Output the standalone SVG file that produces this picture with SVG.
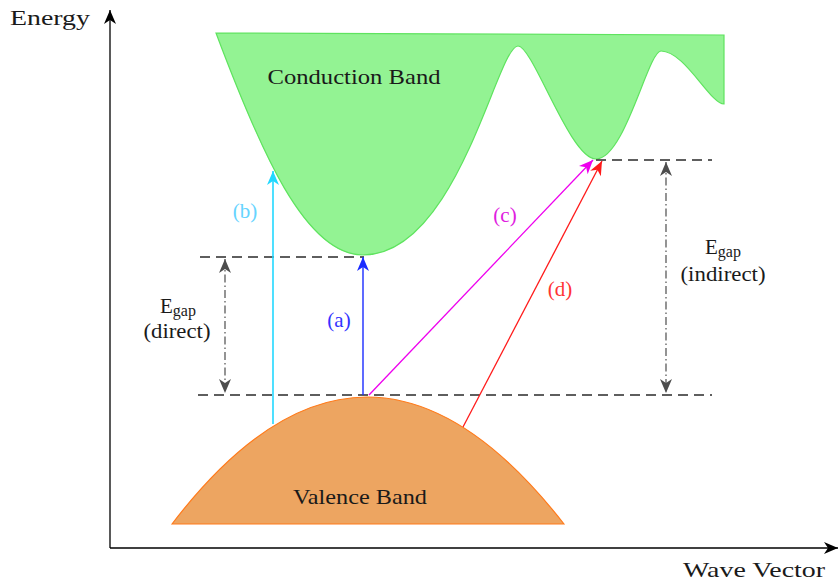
<svg xmlns="http://www.w3.org/2000/svg" width="840" height="582" viewBox="0 0 840 582" font-family="'Liberation Serif', 'Times New Roman', serif">
<style>
text{font-family:"Liberation Serif","Times New Roman",serif;font-size:21px;fill:#1a1a1a}
.mid{text-anchor:middle}
.dash{stroke:#2a2a2a;stroke-width:1.4;stroke-dasharray:10 6;fill:none}
.gap{stroke:#4d4d4d;stroke-width:1.2;stroke-dasharray:8 3 1.5 3;fill:none}
.ax{stroke:#000;stroke-width:1.3;fill:none}
</style>
<defs>
<marker id="mk" markerUnits="userSpaceOnUse" orient="auto-start-reverse" overflow="visible" markerWidth="1" markerHeight="1"><path d="M0,0 L-14,-6 L-10,0 L-14,6 Z" fill="#000"/></marker>
<marker id="mg" markerUnits="userSpaceOnUse" orient="auto-start-reverse" overflow="visible" markerWidth="1" markerHeight="1"><path d="M0,0 L-14,-6 L-10,0 L-14,6 Z" fill="#4d4d4d"/></marker>
<marker id="ma" markerUnits="userSpaceOnUse" orient="auto" overflow="visible" markerWidth="1" markerHeight="1"><path d="M0,0 L-14,-6 L-10,0 L-14,6 Z" fill="#1a2bff"/></marker>
<marker id="mb" markerUnits="userSpaceOnUse" orient="auto" overflow="visible" markerWidth="1" markerHeight="1"><path d="M0,0 L-14,-6 L-10,0 L-14,6 Z" fill="#22d8ff"/></marker>
<marker id="mc" markerUnits="userSpaceOnUse" orient="auto" overflow="visible" markerWidth="1" markerHeight="1"><path d="M0,0 L-14,-6 L-10,0 L-14,6 Z" fill="#ee00ee"/></marker>
<marker id="md" markerUnits="userSpaceOnUse" orient="auto" overflow="visible" markerWidth="1" markerHeight="1"><path d="M0,0 L-14,-6 L-10,0 L-14,6 Z" fill="#ff1a1a"/></marker>
</defs>

<g id="conduction-band">
<path d="M216,33 C260,150 305,255 363,255 C458,255 497,46 518,46 C533,46 570,159 596,159 C625,159 648,51 661,51 C685,51 710,104 724,104 L724,35 Z" fill="#93f393" stroke="#5fe35f" stroke-width="1.2"/>
<text class="mid" x="354" y="84" textLength="173" lengthAdjust="spacingAndGlyphs">Conduction Band</text>
</g>

<g id="valence-band">
<path d="M172,524 Q366,270 564,524 Z" fill="#eda561" stroke="#ff7a1a" stroke-width="1.2"/>
<text class="mid" x="360" y="504" textLength="134" lengthAdjust="spacingAndGlyphs">Valence Band</text>
</g>

<g id="axes">
<line class="ax" x1="110" y1="548" x2="110" y2="10" marker-end="url(#mk)"/>
<line class="ax" x1="110" y1="548" x2="838" y2="548" marker-end="url(#mk)"/>
<text x="10" y="25" textLength="80" lengthAdjust="spacingAndGlyphs">Energy</text>
<text x="683" y="577" textLength="142" lengthAdjust="spacingAndGlyphs">Wave Vector</text>
</g>

<g id="levels">
<line class="dash" x1="200" y1="257" x2="364" y2="257"/>
<line class="dash" x1="198" y1="395" x2="712" y2="395"/>
<line class="dash" x1="596" y1="160" x2="712" y2="160"/>
</g>

<g id="gap-direct">
<line class="gap" x1="225" y1="259" x2="225" y2="393" marker-start="url(#mg)" marker-end="url(#mg)"/>
<text class="mid" x="178" y="313">E<tspan font-size="16" dy="3">gap</tspan></text>
<text class="mid" x="177" y="338" textLength="67" lengthAdjust="spacingAndGlyphs">(direct)</text>
</g>

<g id="gap-indirect">
<line class="gap" x1="666" y1="162" x2="666" y2="393" marker-start="url(#mg)" marker-end="url(#mg)"/>
<text class="mid" x="723" y="254">E<tspan font-size="16" dy="3">gap</tspan></text>
<text class="mid" x="723" y="281" textLength="85" lengthAdjust="spacingAndGlyphs">(indirect)</text>
</g>

<g id="connectors">
<line x1="363" y1="395" x2="363" y2="257" stroke="#1a2bff" stroke-width="1.4" marker-end="url(#ma)"/>
<line x1="273" y1="424" x2="273" y2="171" stroke="#22d8ff" stroke-width="1.6" marker-end="url(#mb)"/>
<line x1="369" y1="395" x2="593" y2="160" stroke="#ee00ee" stroke-width="1.3" marker-end="url(#mc)"/>
<line x1="463" y1="427" x2="602" y2="161" stroke="#ff1a1a" stroke-width="1.3" marker-end="url(#md)"/>
<text class="mid" x="339" y="327" style="fill:#3333ff">(a)</text>
<text class="mid" x="245" y="218" style="fill:#66d4ff">(b)</text>
<text class="mid" x="505" y="222" style="fill:#e020e0">(c)</text>
<text class="mid" x="560" y="296" style="fill:#ff3333">(d)</text>
</g>
</svg>
